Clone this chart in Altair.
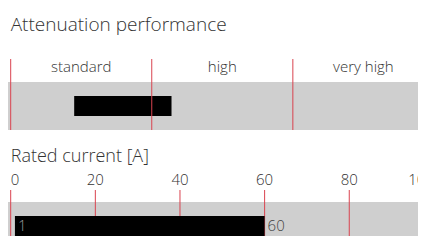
import altair as alt
import pandas as pd

# Attenuation performance
att_title = "Attenuation performance"
att_labels = ["standard", "high", "very high"]
att_bounds = [0, 33.33, 66.67, 100]
att_bar_start = [15]
att_bar_end = [38]

# Rated current
cur_title = "Rated current [A]"
cur_ticks = [0, 20, 40, 60, 80, 100]
cur_bar_start = [1]
cur_bar_end = [60]

W, H = 410, 228
RED = "#d9434f"
GREY = "#cfcfcf"
FONT = "Open Sans"
TXT = "#333333"

xscale = alt.Scale(domain=[0, 100], range=[2.7, 425.9], nice=False, zero=False)
one = pd.DataFrame({"a": [0]})

# ---------- top panel ----------
cats = pd.DataFrame({
    "label": att_labels,
    "mid": [(att_bounds[i] + att_bounds[i + 1]) / 2 for i in range(len(att_labels))],
})
bounds = pd.DataFrame({"b": att_bounds[:-1]})
bar1 = pd.DataFrame({"s": att_bar_start, "e": att_bar_end})

title1 = alt.Chart(pd.DataFrame({"t": [att_title]})).mark_text(
    font=FONT, fontSize=19, fontWeight=300, color=TXT, align="left", baseline="alphabetic"
).encode(x=alt.value(2.7), y=alt.value(22.5), text="t:N")
grey1 = alt.Chart(one).mark_rect(color=GREY).encode(
    x=alt.value(0), x2=alt.value(W), y=alt.value(74), y2=alt.value(122)
)
black1 = alt.Chart(bar1).mark_rect(color="black").encode(
    x=alt.X("s:Q", scale=xscale, axis=None), x2="e:Q",
    y=alt.value(88), y2=alt.value(108)
)
rules1 = alt.Chart(bounds).mark_rule(color=RED, strokeWidth=1).encode(
    x=alt.X("b:Q", scale=xscale, axis=None), y=alt.value(51), y2=alt.value(122)
)
text1 = alt.Chart(cats).mark_text(
    font=FONT, fontSize=15, fontWeight=300, color=TXT, baseline="alphabetic"
).encode(
    x=alt.X("mid:Q", scale=xscale, axis=None), y=alt.value(64), text="label:N"
)

# ---------- bottom panel ----------
ticks = pd.DataFrame({"t": cur_ticks})
bar2 = pd.DataFrame({"s": cur_bar_start, "e": cur_bar_end})

title2 = alt.Chart(pd.DataFrame({"t": [cur_title]})).mark_text(
    font=FONT, fontSize=18, fontWeight=300, color=TXT, align="left", baseline="alphabetic"
).encode(x=alt.value(2.7), y=alt.value(153.5), text="t:N")
grey2 = alt.Chart(one).mark_rect(color=GREY).encode(
    x=alt.value(0), x2=alt.value(W), y=alt.value(194), y2=alt.value(H)
)
rules2 = alt.Chart(ticks).mark_rule(color=RED, strokeWidth=1).encode(
    x=alt.X("t:Q", scale=xscale, axis=None), y=alt.value(182), y2=alt.value(H)
)


def tick_labels(data, align):
    return alt.Chart(data).mark_text(
        font=FONT, fontSize=15, fontWeight=300, color=TXT, align=align,
        baseline="alphabetic"
    ).encode(x=alt.X("t:Q", scale=xscale, axis=None), y=alt.value(176.5), text="t:Q")


tl_first = tick_labels(ticks.iloc[:1], "left")
tl_mid = tick_labels(ticks.iloc[1:-1], "center")
tl_last = tick_labels(ticks.iloc[-1:], "right")

black2 = alt.Chart(bar2).mark_rect(color="black").encode(
    x=alt.X("s:Q", scale=xscale, axis=None), x2="e:Q", y=alt.value(208), y2=alt.value(H)
)
lab_in = alt.Chart(bar2).mark_text(
    font=FONT, fontSize=15, fontWeight=300, color="#9a9a9a", align="left",
    baseline="alphabetic", dx=3
).encode(x=alt.X("s:Q", scale=xscale, axis=None), y=alt.value(223), text="s:Q")
lab_out = alt.Chart(bar2).mark_text(
    font=FONT, fontSize=15, fontWeight=300, color="#444444", align="left",
    baseline="alphabetic", dx=3
).encode(x=alt.X("e:Q", scale=xscale, axis=None), y=alt.value(223), text="e:Q")

chart = alt.layer(
    title1, grey1, black1, rules1, text1,
    title2, tl_first, tl_mid, tl_last, grey2, rules2, black2, lab_in, lab_out
).properties(
    width=W, height=H,
    autosize=alt.AutoSizeParams(type="none"),
    padding=0,
).configure_view(stroke=None)

chart.save("out.html", embed_options={"renderer": "svg", "actions": False})
